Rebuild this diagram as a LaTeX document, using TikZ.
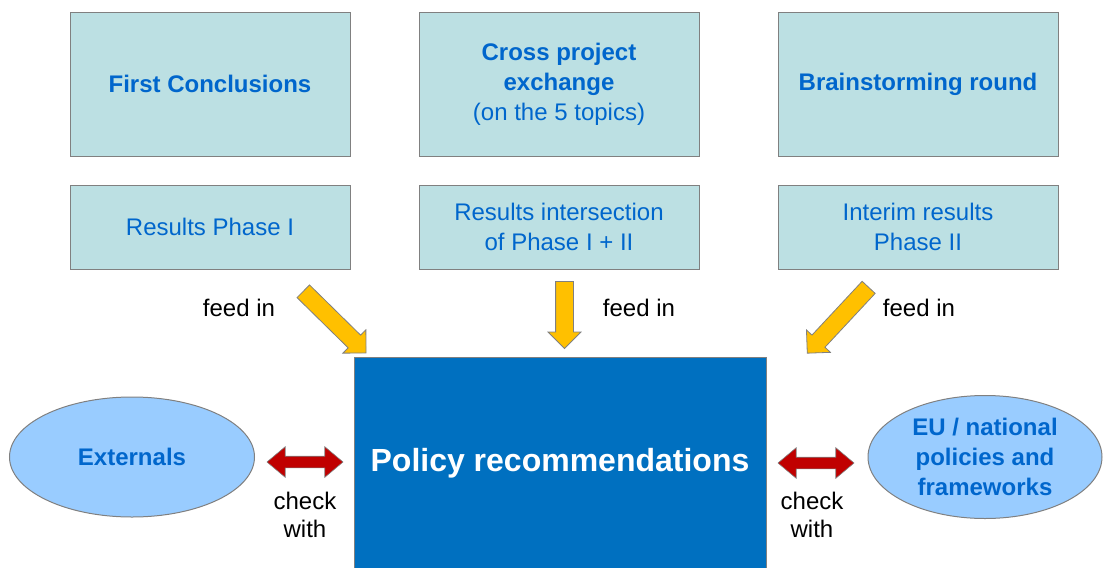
\documentclass[tikz,border=0pt]{standalone}
\usepackage{fontspec}
\setmainfont{Liberation Sans}
\usepackage{tikz}
\usetikzlibrary{shapes.geometric}
\usetikzlibrary{shapes.arrows}
\usetikzlibrary{positioning}

\definecolor{boxteal}{RGB}{188,224,227}
\definecolor{txtblue}{RGB}{0,102,204}
\definecolor{polblue}{RGB}{0,112,192}
\definecolor{ellblue}{RGB}{153,204,255}
\definecolor{feedyellow}{RGB}{255,192,0}
\definecolor{checkred}{RGB}{192,0,0}
\definecolor{edgegray}{RGB}{128,128,128}

\tikzset{
  topbox/.style={draw=edgegray, line width=1pt, fill=boxteal, minimum width=280pt,
    minimum height=144pt, align=center, text=txtblue, font=\fontsize{24}{30}\selectfont},
  resbox/.style={topbox, minimum height=84pt},
  mainbox/.style={draw=edgegray, line width=1pt, fill=polblue, minimum width=412pt,
    minimum height=213pt, text=white, font=\fontsize{32}{38}\selectfont\bfseries},
  ellbox/.style={ellipse, draw=edgegray, line width=1pt, fill=ellblue, inner sep=0pt,
    align=center, text=txtblue, font=\fontsize{24}{30}\selectfont\bfseries},
  feedarrow/.style={single arrow, draw=edgegray, line width=0.8pt, fill=feedyellow,
    inner sep=0pt, inner ysep=8.5pt, text height=0pt, text depth=0pt,
    single arrow head extend=7.5pt, minimum height=#1},
  checkarrow/.style={double arrow, draw=edgegray, line width=0.6pt, fill=checkred,
    inner sep=0pt, inner ysep=5.5pt, text height=0pt, text depth=0pt,
    double arrow head extend=9.5pt, double arrow tip angle=80, minimum height=#1},
  lbl/.style={align=center, font=\fontsize{24}{28}\selectfont}
}

\begin{document}
\begin{tikzpicture}[x=1pt, y=-1pt]
\useasboundingbox (0,0) rectangle (1104,568);

%top row
\node[topbox] (first) at (210,84) {\textbf{First Conclusions}};
\node[topbox] (cross) at (559,84) {\textbf{Cross project}\\\textbf{exchange}\\(on the 5 topics)};
\node[topbox] (brain) at (918,84) {\textbf{Brainstorming round}};

%results row
\node[resbox, below=28pt of first] (firstres) {Results Phase I};
\node[resbox, below=28pt of cross] (crossres) {Results intersection\\of Phase I + II};
\node[resbox, below=28pt of brain] (brainres) {Interim results\\Phase II};

%policy box
\node[mainbox] (policy) at (560,463.5) {\raisebox{-3pt}{Policy recommendations}};

%feed in
\node[feedarrow=88pt, rotate=-44.5] (feedA) at (331.5,319) {};
\node[feedarrow=67pt, rotate=-90] (feedB) at (564.5,310.5) {};
\node[feedarrow=90pt, rotate=-133] (feedC) at (841,317) {};
\node[lbl] (feedAlbl) at (239,308) {feed in};
\node[lbl] (feedBlbl) at (639,308) {feed in};
\node[lbl] (feedClbl) at (919,308) {feed in};

%check with
\node[ellbox, minimum width=245pt, minimum height=120pt] (ext) at (132,457) {Externals};
\node[ellbox, minimum width=234pt, minimum height=123pt] (eu) at (985,457) {EU / national\\policies and\\frameworks};
\node[checkarrow=76pt] (checkA) at (305,462) {};
\node[checkarrow=76pt] (checkB) at (816,463) {};
\node[lbl] (checkAlbl) at (305,515) {check\\with};
\node[lbl] (checkBlbl) at (812,515) {check\\with};

\end{tikzpicture}
\end{document}
